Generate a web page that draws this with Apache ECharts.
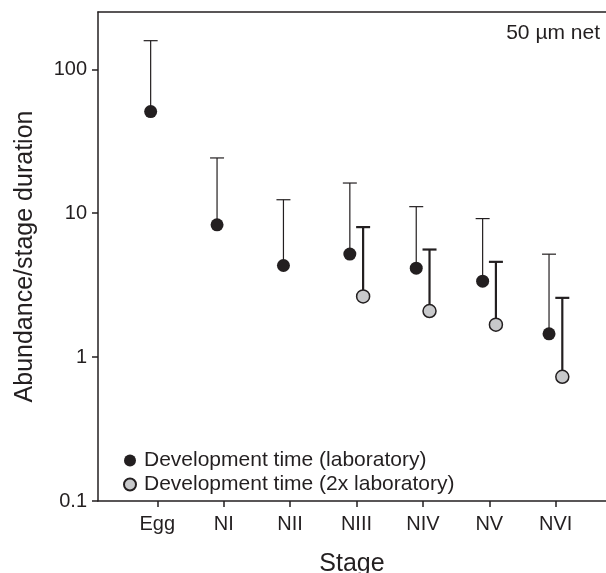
<!DOCTYPE html>
<html>
<head>
<meta charset="utf-8">
<script src="https://cdn.jsdelivr.net/npm/echarts@6/dist/echarts.min.js"></script>
<style>
  html, body { margin: 0; padding: 0; background: #fff; }
  #chart { width: 606px; height: 573px; }
</style>
</head>
<body>
<div id="chart"></div>
<script>
// stages on the x axis
var stages = ['Egg', 'NI', 'NII', 'NIII', 'NIV', 'NV', 'NVI'];
// development time (laboratory): mean and top of error bar
var labMean = [50.8, 8.3, 4.33, 5.2, 4.15, 3.37, 1.45];
var labUpper = [158, 24.2, 12.4, 16.2, 11.1, 9.17, 5.19];
// development time (2x laboratory), only NIII..NVI
var lab2Mean = [null, null, null, 2.64, 2.09, 1.68, 0.73];
var lab2Upper = [null, null, null, 8.0, 5.59, 4.59, 2.58];
var yTicks = [0.1, 1, 10, 100];

var ink = '#231f20';
var font = '"Liberation Sans", Arial, Helvetica, sans-serif';

function points(mean, shift) {
    var out = [];
    mean.forEach(function (v, i) {
        if (v != null) out.push([i + shift, v]);
    });
    return out;
}
function bars(mean, upper, shift) {
    var out = [];
    mean.forEach(function (v, i) {
        if (v != null) out.push([i + shift, v, upper[i]]);
    });
    return out;
}
function barRenderer(lw) {
    return function (params, api) {
        var lo = api.coord([api.value(0), api.value(1)]);
        var hi = api.coord([api.value(0), api.value(2)]);
        var style = { stroke: ink, lineWidth: lw };
        return {
            type: 'group',
            children: [
                { type: 'line', shape: { x1: lo[0], y1: lo[1], x2: hi[0], y2: hi[1] }, style: style },
                { type: 'line', shape: { x1: hi[0] - 7, y1: hi[1], x2: hi[0] + 7, y2: hi[1] }, style: style }
            ]
        };
    };
}

var chart = echarts.init(document.getElementById('chart'));
var option = {
    animation: false,
    textStyle: { fontFamily: font, color: ink },
    title: {
        text: '50 µm net',
        right: 1,
        top: 18,
        textStyle: { fontFamily: font, fontSize: 21, fontWeight: 'normal', color: ink }
    },
    legend: {
        data: ['Development time (laboratory)', 'Development time (2x laboratory)'],
        orient: 'vertical',
        left: 118,
        top: 445,
        itemWidth: 18,
        itemHeight: 12,
        itemGap: 3,
        icon: 'circle',
        textStyle: { fontFamily: font, fontSize: 21, color: ink }
    },
    grid: { left: 98, right: 0, top: 12, bottom: 72, containLabel: false, outerBoundsMode: 'none' },
    xAxis: [
        {
            type: 'value',
            min: -0.893,
            max: 6.758,
            name: 'Stage',
            nameLocation: 'middle',
            nameGap: 51,
            nameTextStyle: { fontFamily: font, fontSize: 25, color: ink },
            splitLine: { show: false },
            axisLine: { onZero: false, lineStyle: { color: ink, width: 1.5 } },
            axisTick: { customValues: [0, 1, 2, 3, 4, 5, 6], length: 6, lineStyle: { color: ink, width: 1.5 } },
            axisLabel: {
                customValues: [0, 1, 2, 3, 4, 5, 6],
                margin: 13,
                fontSize: 20,
                color: ink,
                fontFamily: font,
                formatter: function (v) { return stages[Math.round(v)]; }
            }
        },
        {
            type: 'value',
            position: 'top',
            min: -0.893,
            max: 6.758,
            splitLine: { show: false },
            axisLine: { show: true, onZero: false, lineStyle: { color: ink, width: 1.5 } },
            axisTick: { show: false },
            axisLabel: { show: false }
        }
    ],
    yAxis: {
        type: 'log',
        logBase: 10,
        min: 0.1,
        max: 250,
        name: 'Abundance/stage duration',
        nameLocation: 'middle',
        nameGap: 60,
        nameTextStyle: { fontFamily: font, fontSize: 25, color: ink },
        splitLine: { show: false },
        axisLine: { show: true, onZero: false, lineStyle: { color: ink, width: 1.5 } },
        axisTick: { customValues: yTicks, length: 6, lineStyle: { color: ink, width: 1.5 } },
        axisLabel: {
            customValues: yTicks,
            margin: 11,
            fontSize: 20,
            color: ink,
            fontFamily: font,
            formatter: function (v) { return String(v); }
        }
    },
    series: [
        {
            name: 'lab bars',
            type: 'custom',
            renderItem: barRenderer(1.2),
            data: bars(labMean, labUpper, -0.1),
            z: 2
        },
        {
            name: '2x bars',
            type: 'custom',
            renderItem: barRenderer(2.2),
            data: bars(lab2Mean, lab2Upper, 0.1),
            z: 2
        },
        {
            name: 'Development time (laboratory)',
            type: 'scatter',
            symbol: 'circle',
            symbolSize: 13,
            itemStyle: { color: ink, opacity: 1 },
            data: points(labMean, -0.1),
            z: 3
        },
        {
            name: 'Development time (2x laboratory)',
            type: 'scatter',
            symbol: 'circle',
            symbolSize: 13,
            itemStyle: { color: '#c8c9cb', borderColor: ink, borderWidth: 1.5, opacity: 1 },
            data: points(lab2Mean, 0.1),
            z: 3
        }
    ]
};
chart.setOption(option);
</script>
</body>
</html>
